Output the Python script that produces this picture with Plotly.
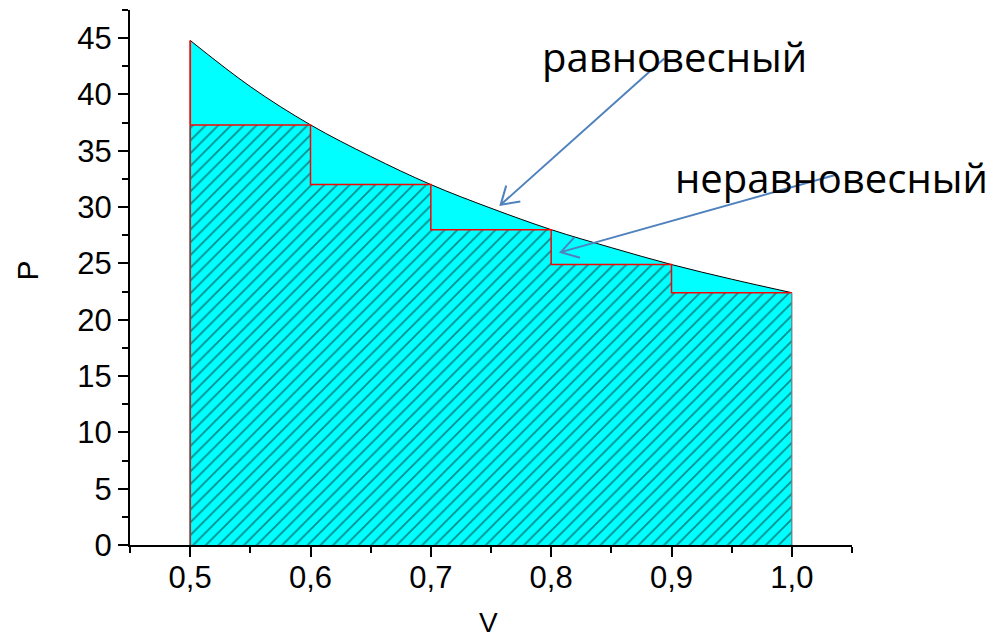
import math
import plotly.graph_objects as go

# Equilibrium curve
curve_v = [0.50, 0.55, 0.60, 0.65, 0.70, 0.75, 0.80, 0.85, 0.90, 0.95, 1.00]
curve_p = [44.8, 40.7, 37.3, 34.5, 32.0, 29.9, 28.0, 26.4, 24.9, 23.6, 22.4]

# Non-equilibrium steps
step_v = [0.5, 0.6, 0.7, 0.8, 0.9, 1.0]
step_p = [37.3, 32.0, 28.0, 24.9, 22.4, 22.4]

x_ticks = [0.5, 0.6, 0.7, 0.8, 0.9, 1.0]
x_ticktext = ["0,5", "0,6", "0,7", "0,8", "0,9", "1,0"]
y_ticks = [0, 5, 10, 15, 20, 25, 30, 35, 40, 45]

label_eq = "равновесный"
label_neq = "неравновесный"

# arrows: (tail V, tail P, head V, head P)
arrow_eq = (0.894, 43.2, 0.758, 30.2)
arrow_neq = (1.036, 32.85, 0.808, 26.0)

X_RANGE = [0.45, 1.05]
Y_RANGE = [0, 47.5]
W, H = 994, 641
ML, MR, MT, MB = 122, 150, 2, 104
PW, PH = W - ML - MR, H - MT - MB
sx = PW / (X_RANGE[1] - X_RANGE[0])
sy = PH / (Y_RANGE[1] - Y_RANGE[0])

fig = go.Figure()

# curve region (cyan)
fig.add_trace(go.Scatter(
    x=curve_v, y=curve_p, mode="lines", line=dict(color="black", width=1, shape="spline"),
    fill="tozeroy", fillcolor="#00FFFF", hoverinfo="skip", showlegend=False))

# hatched steps
fig.add_trace(go.Scatter(
    x=step_v, y=step_p, mode="lines", line=dict(color="red", width=1.5, shape="hv"),
    fill="tozeroy", fillcolor="#00FFFF",
    fillpattern=dict(shape="/", bgcolor="#00FFFF", fgcolor="#0a1a1a", size=9, solidity=0.2),
    hoverinfo="skip", showlegend=False))

# right edge of last step
fig.add_trace(go.Scatter(
    x=[step_v[-1], step_v[-1]], y=[0, step_p[-1]], mode="lines",
    line=dict(color="#777777", width=1.2), hoverinfo="skip", showlegend=False))

# left edge: dark red in hatched part, red above
fig.add_trace(go.Scatter(
    x=[step_v[0], step_v[0]], y=[0, step_p[0]], mode="lines",
    line=dict(color="#8B3A3A", width=1.8), hoverinfo="skip", showlegend=False))
fig.add_trace(go.Scatter(
    x=[curve_v[0], curve_v[0]], y=[step_p[0], curve_p[0]], mode="lines",
    line=dict(color="red", width=1.8), hoverinfo="skip", showlegend=False))

# arrows with open chevron heads
arrow_color = "#4F81BD"
for tv, tp, hv, hp in (arrow_eq, arrow_neq):
    dx = (tv - hv) * sx
    dy = (tp - hp) * sy
    ang = math.atan2(dy, dx)
    L = 20
    bx, by = [], []
    for da in (math.radians(32), -math.radians(32)):
        bx.append(hv + L * math.cos(ang + da) / sx)
        by.append(hp + L * math.sin(ang + da) / sy)
    fig.add_trace(go.Scatter(
        x=[tv, hv, None, bx[0], hv, bx[1]], y=[tp, hp, None, by[0], hp, by[1]],
        mode="lines", line=dict(color=arrow_color, width=2), hoverinfo="skip",
        showlegend=False, cliponaxis=False))

tick_font = dict(family="Liberation Sans, Arial, sans-serif", size=31, color="black")

fig.update_xaxes(
    range=X_RANGE, tickvals=x_ticks, ticktext=x_ticktext,
    showline=True, linecolor="black", linewidth=2, showgrid=False, zeroline=False,
    ticks="outside", ticklen=10, tickwidth=2, tickcolor="black", ticklabelstandoff=-6,
    minor=dict(dtick=0.05, tick0=0.5, ticks="outside", ticklen=6, tickwidth=2, tickcolor="black"),
    tickfont=tick_font)
fig.update_yaxes(
    range=Y_RANGE, tickvals=y_ticks,
    showline=True, linecolor="black", linewidth=2, showgrid=False, zeroline=False,
    ticks="outside", ticklen=10, tickwidth=2, tickcolor="black",
    minor=dict(dtick=2.5, tick0=0, ticks="outside", ticklen=6, tickwidth=2, tickcolor="black"),
    tickfont=tick_font)

text_font = dict(family="Open Sans, Noto Sans, sans-serif", size=40, color="black")

fig.update_layout(
    width=W, height=H,
    margin=dict(l=ML, r=MR, t=MT, b=MB),
    plot_bgcolor="white", paper_bgcolor="white",
    annotations=[
        dict(text="P", xref="paper", yref="paper", x=0, y=0.5, xanchor="center", yanchor="middle",
             xshift=-103, yshift=7, showarrow=False, textangle=-90,
             font=dict(family="Liberation Sans, Arial", size=30, color="black")),
        dict(text="V", xref="paper", yref="paper", x=0.497, y=0, xanchor="center", yanchor="middle",
             yshift=-77, showarrow=False,
             font=dict(family="Liberation Sans, Arial", size=28, color="black")),
        dict(text=label_eq, xref="x", yref="y", x=0.9025, y=43.4, showarrow=False, font=text_font),
        dict(text=label_neq, xref="x", yref="y", x=1.0333, y=32.6, showarrow=False, font=text_font),
    ],
)

fig.write_html("out.html")
